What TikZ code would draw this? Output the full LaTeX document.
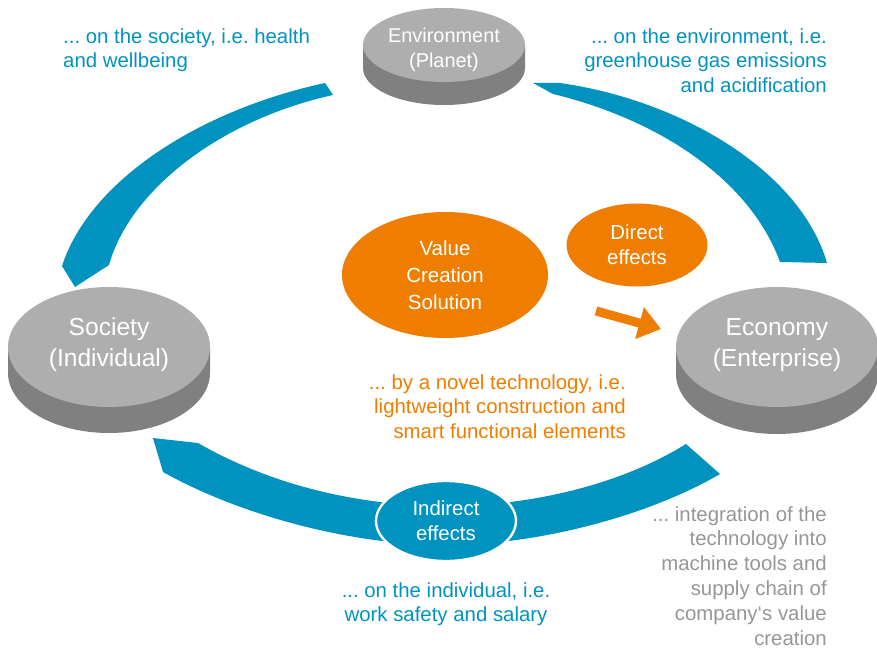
\documentclass[tikz,border=0pt]{standalone}
\usepackage{fontspec}
\setmainfont{Liberation Sans}
\usetikzlibrary{shapes.geometric,arrows.meta}
\frenchspacing

\definecolor{bandblue}{RGB}{0,147,192}
\definecolor{valorange}{RGB}{239,125,0}
\definecolor{toplight}{RGB}{174,174,174}
\definecolor{sidedark}{RGB}{128,128,128}
\definecolor{notegray}{RGB}{150,150,150}

\tikzset{
  band/.style={fill=bandblue},
  note/.style={inner sep=0pt, font=\fontsize{17.4}{21.3}\selectfont},
  bubble/.style={ellipse, inner sep=0pt, text=white, align=center, font=\fontsize{17.4}{21.3}\selectfont},
  disclabel/.style={inner sep=0pt, text=white, align=center},
  oarrow/.style={draw=valorange, line width=7.7pt, -{Triangle[length=19pt,width=27pt]}}
}

\begin{document}
\begin{tikzpicture}[x=0.3mm, y=-0.3mm]
  \useasboundingbox (0,0) rectangle (877,651);

  % cycle bands
  \fill[band] (325,83) .. controls (200,110) and (90,180) .. (62,266) -- (75,287) -- (109,265)
    .. controls (130,190) and (220,120) .. (333,95) -- cycle;
  \fill[band] (533,83) -- (560,83) .. controls (680,100) and (800,170) .. (827,263) -- (780,262)
    .. controls (750,180) and (660,120) .. (553,94) -- cycle;
  \fill[band] (153,438) -- (198,443) .. controls (280,490) and (370,506) .. (446,506)
    .. controls (530,506) and (620,485) .. (686,444) -- (720,474)
    .. controls (650,515) and (540,545) .. (446,545)
    .. controls (350,545) and (240,515) .. (163,472) -- cycle;

  % discs
  \foreach \nm/\cx/\cy/\rx/\ry/\dp/\ly/\fs/\bs/\txt in {
      env/444/45/81/37/23/48/17/21.3/{Environment\\(Planet)},
      soc/109/347/101/60/26/342/21/26.5/{Society\\(Individual)},
      eco/777/347/101/60/27/343/21/26.5/{Economy\\(Enterprise)}} {
    \fill[sidedark] (\cx-\rx,\cy) -- (\cx-\rx,\cy+\dp)
      arc[start angle=180, end angle=0, x radius=\rx, y radius=\ry] -- (\cx+\rx,\cy) -- cycle;
    \fill[toplight] (\cx,\cy) ellipse[x radius=\rx, y radius=\ry];
    \node[disclabel, font=\fontsize{\fs}{\bs}\selectfont] (\nm) at (\cx,\ly) {\txt};
  }

  % bubbles
  \node[bubble, fill=valorange, minimum width=61.8mm, minimum height=37.8mm,
    font=\fontsize{17.5}{23}\selectfont] (vcs) at (445,275) {Value\\Creation\\Solution};
  \node[bubble, fill=valorange, minimum width=42.3mm, minimum height=24.9mm] (direct) at (637,245) {Direct\\effects};
  \node[bubble, fill=bandblue, draw=white, line width=2pt, minimum width=42mm,
    minimum height=24mm] (indirect) at (446,521) {Indirect\\effects};

  \coordinate (dtail) at (596,311);
  \coordinate (dtip) at (661,329);
  \draw[oarrow] (dtail) -- (dtip);

  % notes
  \node[note, text=bandblue, anchor=north west, align=left] (socnote) at (63,28)
    {... on the society, i.e. health\\and wellbeing};
  \node[note, text=bandblue, anchor=north east, align=right] (envnote) at (827,28)
    {... on the environment, i.e.\\greenhouse gas emissions\\and acidification};
  \node[note, text=valorange, anchor=north east, align=right] (technote) at (626,374)
    {... by a novel technology, i.e.\\lightweight construction and\\smart functional elements};
  \node[note, text=bandblue, anchor=north, align=center] (indnote) at (446,582)
    {... on the individual, i.e.\\work safety and salary};
  \node[note, text=notegray, anchor=north east, align=right] (econote) at (827,506)
    {... integration of the\\technology into\\machine tools and\\supply chain of\\company‘s value\\creation};
\end{tikzpicture}
\end{document}
